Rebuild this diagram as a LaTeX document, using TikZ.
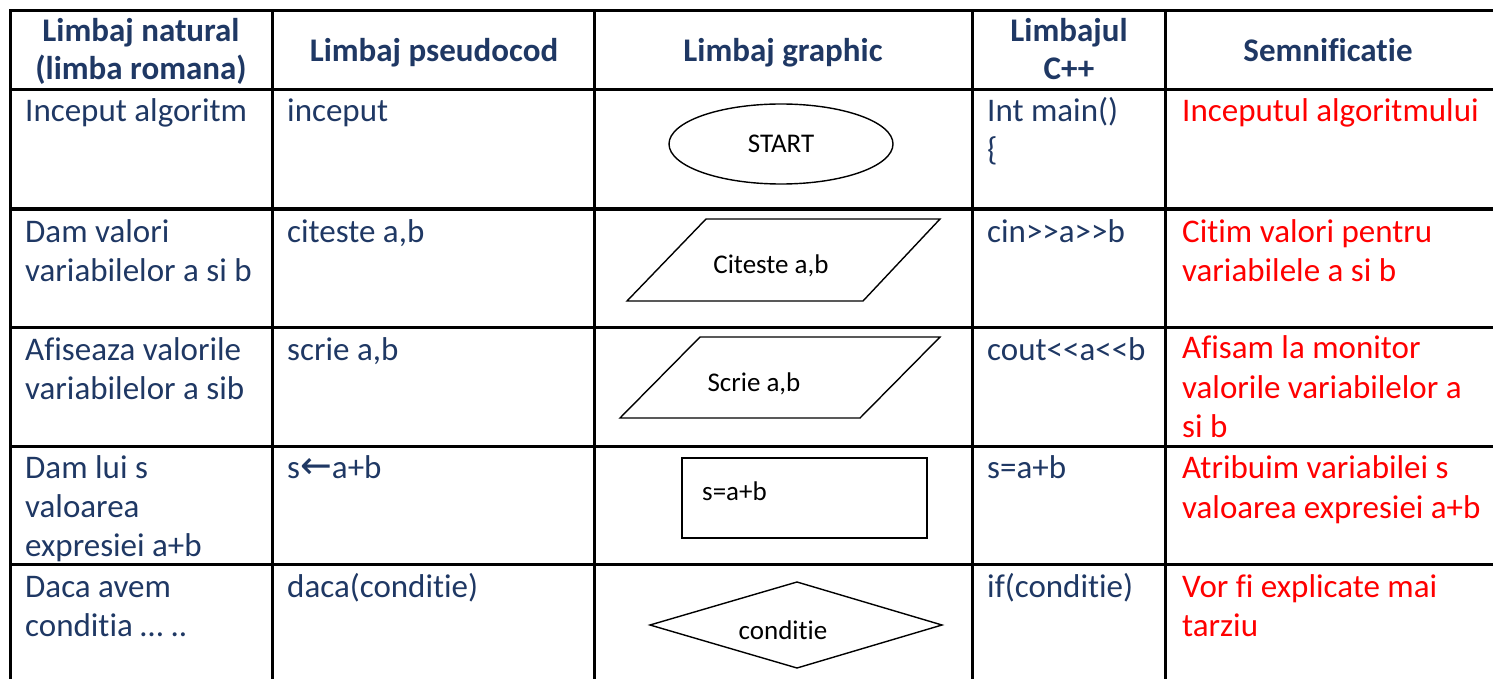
\documentclass[tikz,border=0pt]{standalone}
\usepackage{fontspec}
\setmainfont[Ligatures={NoCommon,NoContextual,NoRare}]{Carlito}
\newfontfamily\arrowfont{DejaVu Sans}
\definecolor{hdrblue}{RGB}{31,56,100}
\definecolor{redtxt}{RGB}{255,0,0}
\begin{document}
\begin{tikzpicture}[x=1pt,y=-1pt,
  grid/.style={line width=3pt,black},
  shp/.style={line width=1.4pt,black,line join=miter},
  hdr/.style={inner sep=0pt,anchor=base,font=\fontsize{33}{40}\selectfont\bfseries,text=hdrblue},
  body/.style={inner sep=0pt,anchor=base west,font=\fontsize{33}{40}\selectfont,text=hdrblue},
  red/.style={inner sep=0pt,anchor=base west,font=\fontsize{33}{40}\selectfont,text=redtxt},
  stxt/.style={inner sep=0pt,anchor=base,font=\fontsize{27}{32}\selectfont,text=black}]
\useasboundingbox (0,0) rectangle (1493,679);
% grid coordinates
\foreach \n/\y in {h0/11,h1/90,h2/209,h3/327,h4/446,h5/564}{
  \coordinate (\n l) at (10,\y); \coordinate (\n r) at (1493,\y);}
\foreach \n/\x in {v0/10,v1/272,v2/594,v3/972,v4/1165}{
  \coordinate (\n t) at (\x,11); \coordinate (\n b) at (\x,679);}
\foreach \n in {h0,h1,h2,h3,h4,h5}{\draw[grid,line cap=rect] (\n l) -- (\n r);}
\foreach \n in {v0,v1,v2,v3,v4}{\draw[grid] (\n t) -- (\n b);}
% headers
\node[hdr] (h1a) at (141,42) {Limbaj natural};
\node[hdr] (h1b) at (141,80) {(limba romana)};
\node[hdr] (h2a) at (434,62) {Limbaj pseudocod};
\node[hdr] (h3a) at (783,62) {Limbaj graphic};
\node[hdr] (h4a) at (1069,42) {Limbajul};
\node[hdr] (h4b) at (1069,80) {C++};
\node[hdr] (h5a) at (1328,62) {Semnificatie};
% column 1
\node[body] (a1) at (25,122) {Inceput algoritm};
\node[body] (a2a) at (25,242) {Dam valori};
\node[body] (a2b) at (25,281) {variabilelor a si b};
\node[body] (a3a) at (25,360) {Afiseaza valorile};
\node[body] (a3b) at (25,399) {variabilelor a sib};
\node[body] (a4a) at (25,478) {Dam lui s};
\node[body] (a4b) at (25,517) {valoarea};
\node[body] (a4c) at (25,556) {expresiei a+b};
\node[body] (a5a) at (25,597) {Daca avem};
\node[body] (a5b) at (25,636) {conditia … ..};
% column 2
\node[body] (b1) at (287,122) {inceput};
\node[body] (b2) at (287,242) {citeste a,b};
\node[body] (b3) at (287,360) {scrie a,b};
\node[body] (b4) at (287,478) {s{\arrowfont\fontsize{38}{40}\selectfont←}a+b};
\node[body] (b5) at (287,597) {daca(conditie)};
% column 4
\node[body] (d1a) at (987,122) {Int main()};
\node[body] (d1b) at (987,161) {\{};
\node[body] (d2) at (987,242) {cin>{}>a>{}>b};
\node[body] (d3) at (987,360) {cout<{}<a<{}<b};
\node[body] (d4) at (987,478) {s=a+b};
\node[body] (d5) at (987,597) {if(conditie)};
% column 5
\node[red] (e1) at (1182,122) {Inceputul algoritmului};
\node[red] (e2a) at (1182,242) {Citim valori pentru};
\node[red] (e2b) at (1182,281) {variabilele a si b};
\node[red] (e3a) at (1182,358) {Afisam la monitor};
\node[red] (e3b) at (1182,398) {valorile variabilelor a};
\node[red] (e3c) at (1182,437) {si b};
\node[red] (e4a) at (1182,478) {Atribuim variabilei s};
\node[red] (e4b) at (1182,518) {valoarea expresiei a+b};
\node[red] (e5a) at (1182,597) {Vor fi explicate mai};
\node[red] (e5b) at (1182,636) {tarziu};
% shapes
\draw[shp] (781,144) ellipse [x radius=112, y radius=40];
\node[stxt] (start) at (781,153) {START};
\draw[shp] (706,219) -- (940,219) -- (863,301) -- (627,301) -- cycle;
\node[stxt] (cit) at (771,273) {Citeste a,b};
\draw[shp] (700,337) -- (940,337) -- (860,418) -- (620,418) -- cycle;
\node[stxt] (scr) at (754,391) {Scrie a,b};
\draw[shp] (682,458) rectangle (927,538);
\node[stxt,anchor=base west] (sab) at (702,500) {s=a+b};
\draw[shp] (650,625) -- (797,582) -- (942,625) -- (797,668) -- cycle;
\node[stxt] (cond) at (783,639) {conditie};
\end{tikzpicture}
\end{document}
